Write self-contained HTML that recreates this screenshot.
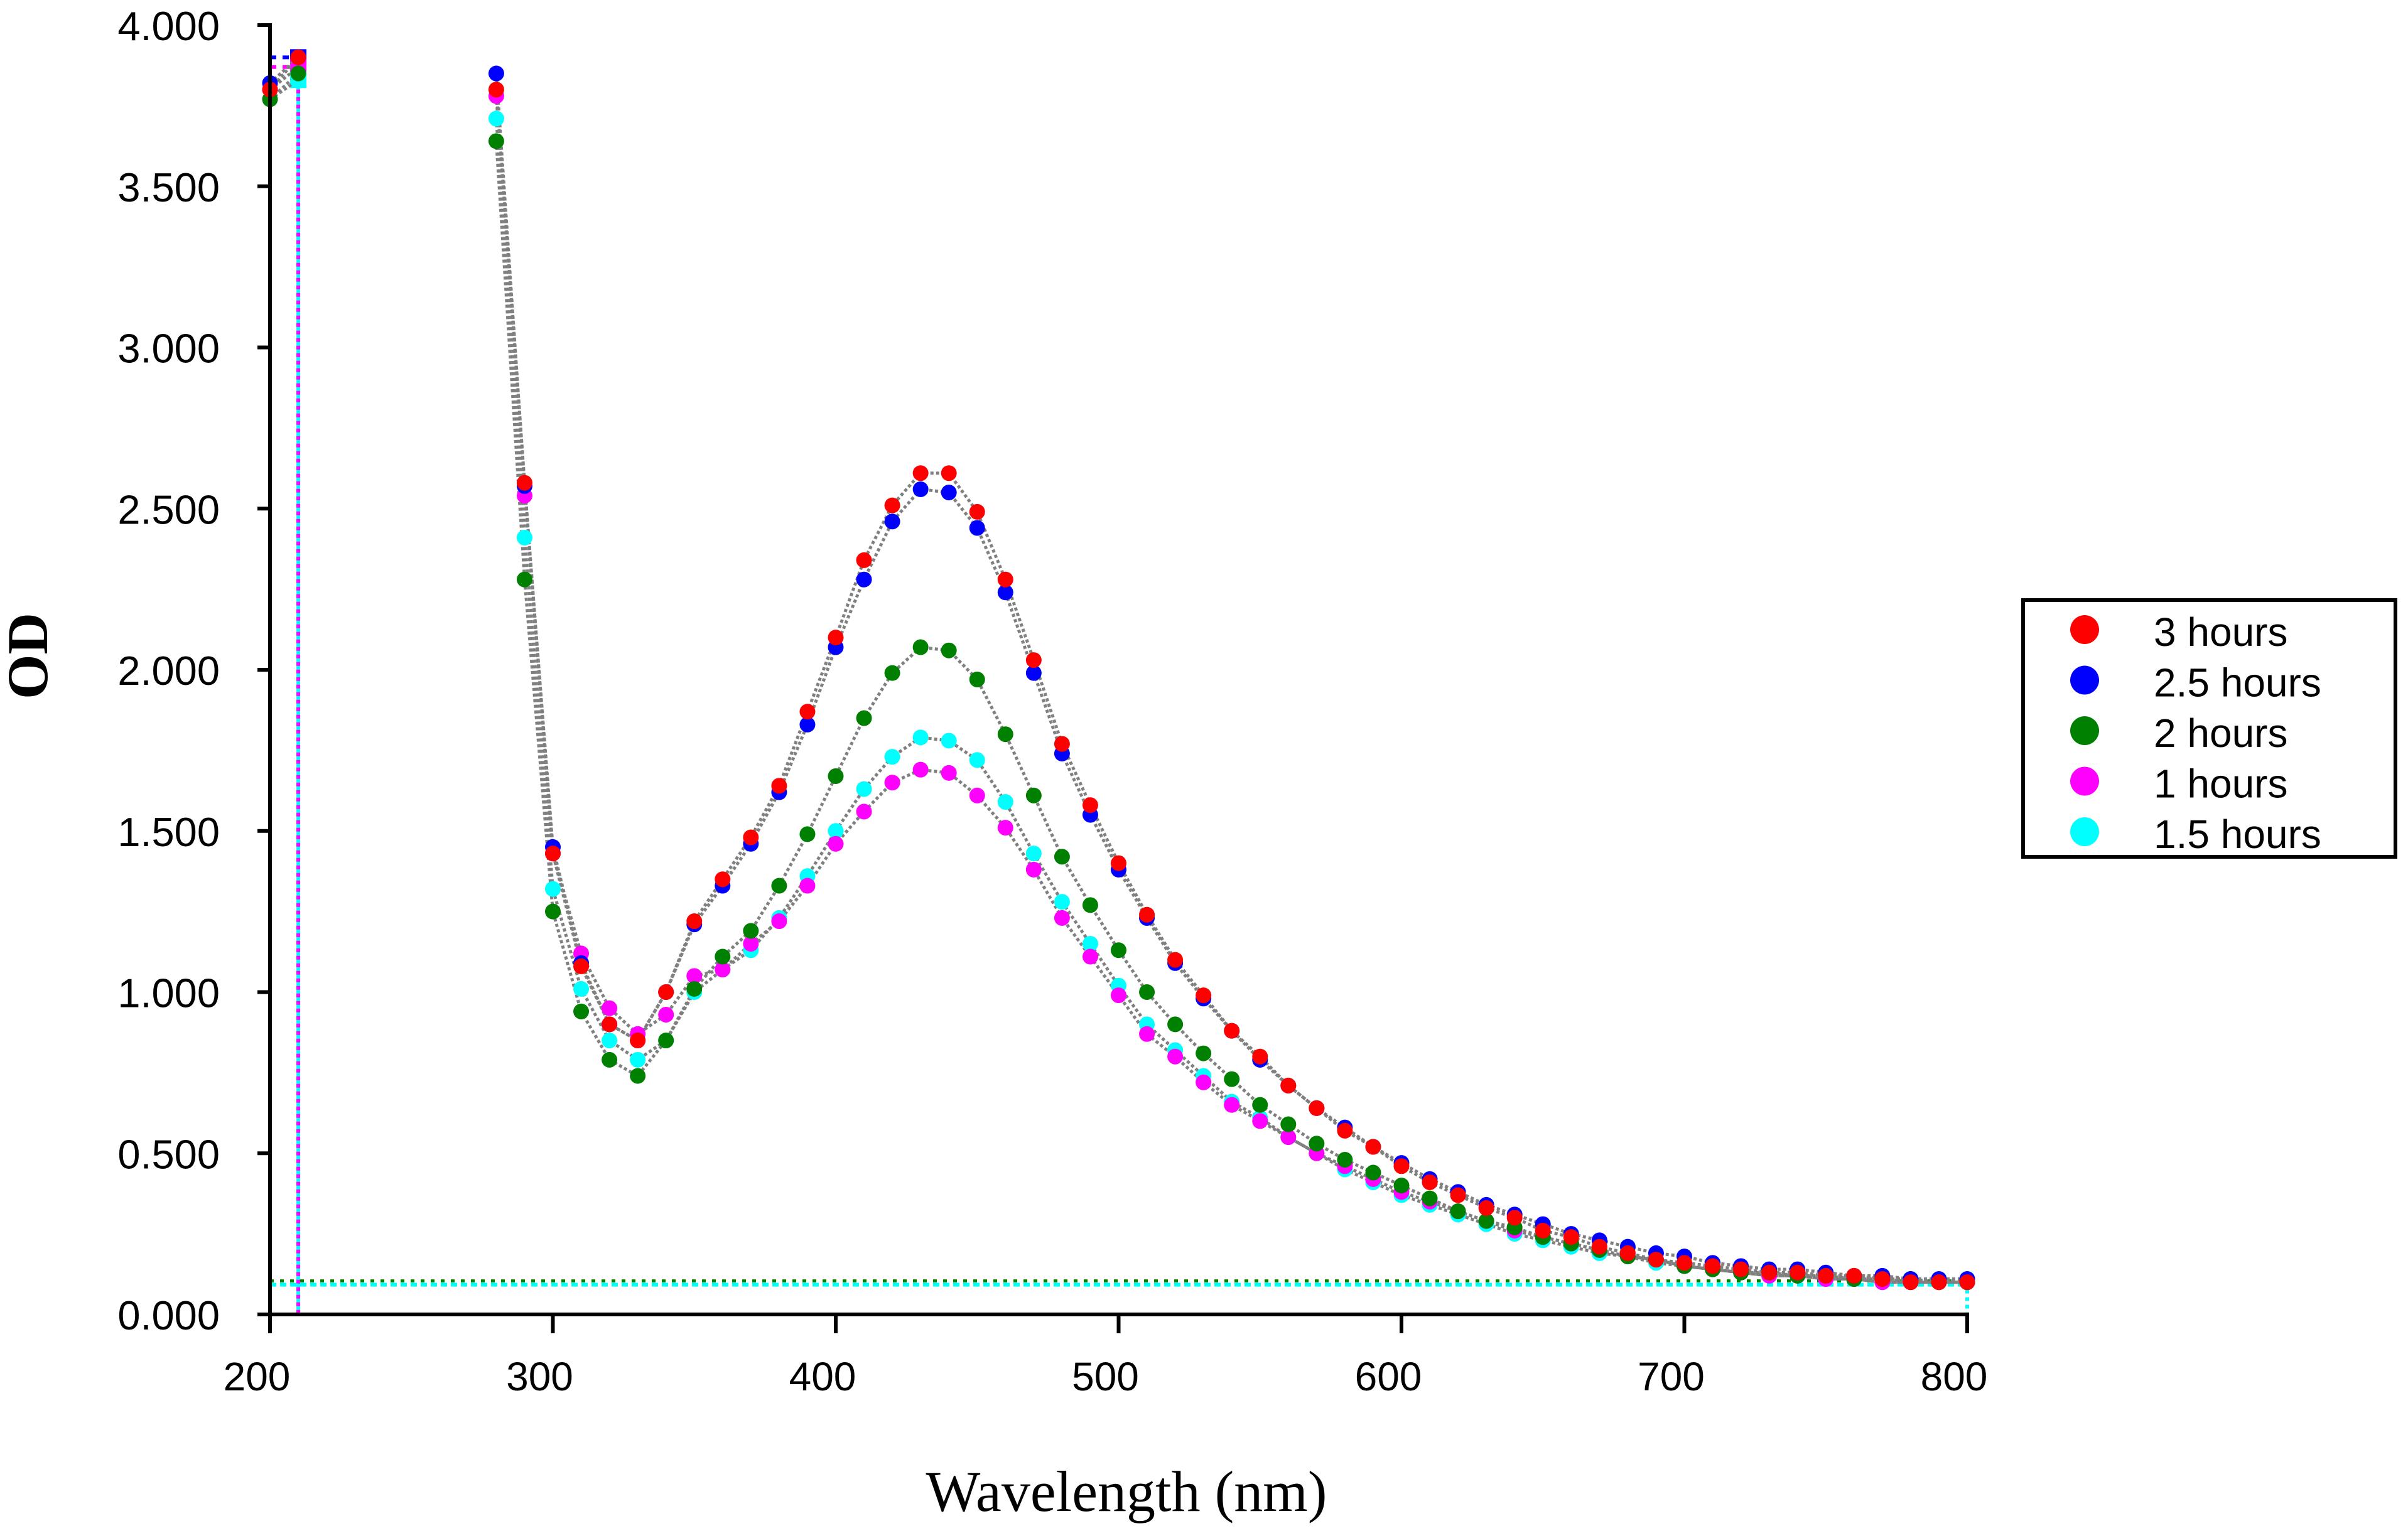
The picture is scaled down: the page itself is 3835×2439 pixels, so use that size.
<!DOCTYPE html>
<html><head><meta charset="utf-8">
<style>
html,body{margin:0;padding:0;background:#fff;}
svg{display:block;}
</style></head>
<body>
<svg id="chart" xmlns="http://www.w3.org/2000/svg" width="3835" height="2439" viewBox="0 0 3835 2439">
<rect x="0" y="0" width="3835" height="2439" fill="#fff"/>
<g id="plot"></g>
<g id="axes"></g>
<g id="legend"></g>
</svg>
<script>
const wavelengths = [200,210,280,290,300,310,320,330,340,350,360,370,380,390,400,410,420,430,440,450,460,470,480,490,500,510,520,530,540,550,560,570,580,590,600,610,620,630,640,650,660,670,680,690,700,710,720,730,740,750,760,770,780,790,800];
const seriesNames = ["3 hours","2.5 hours","2 hours","1 hours","1.5 hours"];
const seriesColors = ["#ff0000","#0000ff","#008000","#ff00ff","#00ffff"];
const od3h = [3.80,3.90,3.80,2.58,1.43,1.08,0.90,0.85,1.00,1.22,1.35,1.48,1.64,1.87,2.10,2.34,2.51,2.61,2.61,2.49,2.28,2.03,1.77,1.58,1.40,1.24,1.10,0.99,0.88,0.80,0.71,0.64,0.57,0.52,0.46,0.41,0.37,0.33,0.30,0.26,0.24,0.21,0.19,0.17,0.16,0.15,0.14,0.13,0.13,0.12,0.12,0.11,0.10,0.10,0.10];
const od25h = [3.82,3.90,3.85,2.57,1.45,1.09,0.90,0.85,1.00,1.21,1.33,1.46,1.62,1.83,2.07,2.28,2.46,2.56,2.55,2.44,2.24,1.99,1.74,1.55,1.38,1.23,1.09,0.98,0.88,0.79,0.71,0.64,0.58,0.52,0.47,0.42,0.38,0.34,0.31,0.28,0.25,0.23,0.21,0.19,0.18,0.16,0.15,0.14,0.14,0.13,0.12,0.12,0.11,0.11,0.11];
const od2h = [3.77,3.85,3.64,2.28,1.25,0.94,0.79,0.74,0.85,1.01,1.11,1.19,1.33,1.49,1.67,1.85,1.99,2.07,2.06,1.97,1.80,1.61,1.42,1.27,1.13,1.00,0.90,0.81,0.73,0.65,0.59,0.53,0.48,0.44,0.40,0.36,0.32,0.29,0.27,0.24,0.22,0.20,0.18,0.17,0.15,0.14,0.13,0.13,0.12,0.12,0.11,0.11,0.11,0.10,0.10];
const od1h = [3.80,3.87,3.78,2.54,1.43,1.12,0.95,0.87,0.93,1.05,1.07,1.15,1.22,1.33,1.46,1.56,1.65,1.69,1.68,1.61,1.51,1.38,1.23,1.11,0.99,0.87,0.80,0.72,0.65,0.60,0.55,0.50,0.46,0.42,0.38,0.35,0.32,0.29,0.26,0.24,0.22,0.20,0.18,0.17,0.15,0.14,0.13,0.12,0.12,0.11,0.11,0.10,0.10,0.10,0.10];
const od15h = [3.77,3.83,3.71,2.41,1.32,1.01,0.85,0.79,0.85,1.00,1.07,1.13,1.23,1.36,1.50,1.63,1.73,1.79,1.78,1.72,1.59,1.43,1.28,1.15,1.02,0.90,0.82,0.74,0.66,0.61,0.55,0.50,0.45,0.41,0.37,0.34,0.31,0.28,0.25,0.23,0.21,0.19,0.18,0.16,0.15,0.14,0.13,0.12,0.12,0.11,0.11,0.10,0.10,0.10,0.10];
const xTicks = [200,300,400,500,600,700,800];
const yTicks = [0,0.5,1,1.5,2,2.5,3,3.5,4];
const yTickLabels = ["0.000","0.500","1.000","1.500","2.000","2.500","3.000","3.500","4.000"];

const NS = "http://www.w3.org/2000/svg";
const X0 = 430, X1 = 3133, Y0 = 2094, Y1 = 40;
function xs(v){ return X0 + (v - 200) / 600 * (X1 - X0); }
function ys(v){ return Y0 - v / 4 * (Y0 - Y1); }
function mk(tag, attrs, parent){
  const e = document.createElementNS(NS, tag);
  for (const k in attrs) e.setAttribute(k, attrs[k]);
  parent.appendChild(e);
  return e;
}
const plot = document.getElementById('plot');
const axes = document.getElementById('axes');
const legend = document.getElementById('legend');
const allSeries = [od3h, od25h, od2h, od1h, od15h];
const drawOrder = [4,3,2,1,0];

let e;
e = mk('line',{x1:xs(210),y1:ys(od15h[1]),x2:xs(210),y2:Y0,stroke:'#00ffff','stroke-width':6},plot);


e = mk('line',{x1:xs(210),y1:ys(od1h[1]),x2:xs(210),y2:Y0,stroke:'#ff00ff','stroke-width':6,'stroke-dasharray':'6 6'},plot);


e = mk('line',{x1:X0,y1:ys(0.1)+4,x2:X1,y2:ys(0.1)+4,stroke:'#00ffff','stroke-width':6,'stroke-dasharray':'10 6'},plot);


e = mk('line',{x1:X0,y1:ys(0.1)-2,x2:X1,y2:ys(0.1)-2,stroke:'#008000','stroke-width':5,'stroke-dasharray':'6 10'},plot);


e = mk('line',{x1:X1,y1:ys(0.1),x2:X1,y2:Y0,stroke:'#00ffff','stroke-width':6,'stroke-dasharray':'6 6'},plot);


e = mk('line',{x1:X0,y1:ys(od25h[1]),x2:xs(210),y2:ys(od25h[1]),stroke:'#0000ff','stroke-width':6,'stroke-dasharray':'10 10'},plot);


e = mk('line',{x1:X0,y1:ys(od1h[1]),x2:xs(210),y2:ys(od1h[1]),stroke:'#ff00ff','stroke-width':6,'stroke-dasharray':'10 10'},plot);


[[od25h,'#0000ff'],[od1h,'#ff00ff'],[od15h,'#00ffff']].forEach(function(p){
  const r = mk('rect',{x:xs(210)-13,y:ys(p[0][1])-13,width:26,height:26,fill:p[1]},plot);
  
  
});

// gray dotted lines (gap between 210 and 280 nm)
drawOrder.forEach(function(si){
  const d = allSeries[si];
  const segs = [[0,2],[2,wavelengths.length]];
  segs.forEach(function(sg){
    let pts = [];
    for (let i = sg[0]; i < sg[1]; i++) pts.push(xs(wavelengths[i]).toFixed(1)+','+ys(d[i]).toFixed(1));
    const pl = mk('polyline',{points:pts.join(' '),fill:'none',stroke:'#808080','stroke-width':5,'stroke-dasharray':'5 4'},plot);
    
    
  });
});
drawOrder.forEach(function(si){
  const d = allSeries[si];
  wavelengths.forEach(function(w,i){
    const c = mk('circle',{cx:xs(w),cy:ys(d[i]),r:12.5,fill:seriesColors[si]},plot);
    
    
  });
});

e = mk('line',{x1:X0,y1:Y1-3,x2:X0,y2:Y0+30,stroke:'#000','stroke-width':6},axes);


e = mk('line',{x1:X0-20,y1:Y0,x2:X1+3,y2:Y0,stroke:'#000','stroke-width':6},axes);


yTicks.forEach(function(v,i){
  const t = mk('line',{x1:X0-20,y1:ys(v),x2:X0,y2:ys(v),stroke:'#000','stroke-width':6},axes);
  
  
  const tx = mk('text',{x:350,y:ys(v)+24,'text-anchor':'end','font-family':'Liberation Sans, Arial, sans-serif','font-size':65,fill:'#000'},axes);
  tx.textContent = yTickLabels[i];
  
  
});
xTicks.forEach(function(v){
  const t = mk('line',{x1:xs(v),y1:Y0,x2:xs(v),y2:Y0+30,stroke:'#000','stroke-width':6},axes);
  
  
  const tx = mk('text',{x:xs(v)-21,y:2215,'text-anchor':'middle','font-family':'Liberation Sans, Arial, sans-serif','font-size':64,fill:'#000'},axes);
  tx.textContent = String(v);
  
  
});
e = mk('text',{x:1794,y:2407,'text-anchor':'middle','font-family':'Liberation Serif, Times New Roman, serif','font-size':92,fill:'#000'},axes);
e.textContent = 'Wavelength (nm)';


e = mk('text',{x:0,y:0,'text-anchor':'middle','font-family':'Liberation Serif, Times New Roman, serif','font-size':92,'font-weight':'bold',fill:'#000',transform:'translate(75,1045) rotate(-90)'},axes);
e.textContent = 'OD';



e = mk('rect',{x:3222,y:956,width:3815-3222,height:1365-956,fill:'#fff',stroke:'#000','stroke-width':6},legend);


seriesNames.forEach(function(n,i){
  const cy = 1003 + i*80.5;
  const c = mk('circle',{cx:3320,cy:cy,r:23,fill:seriesColors[i]},legend);
  
  
  const t = mk('text',{x:3430,y:cy+26,'font-family':'Liberation Sans, Arial, sans-serif','font-size':64,fill:'#000'},legend);
  t.textContent = n;
  
  
});
</script>
</body></html>
